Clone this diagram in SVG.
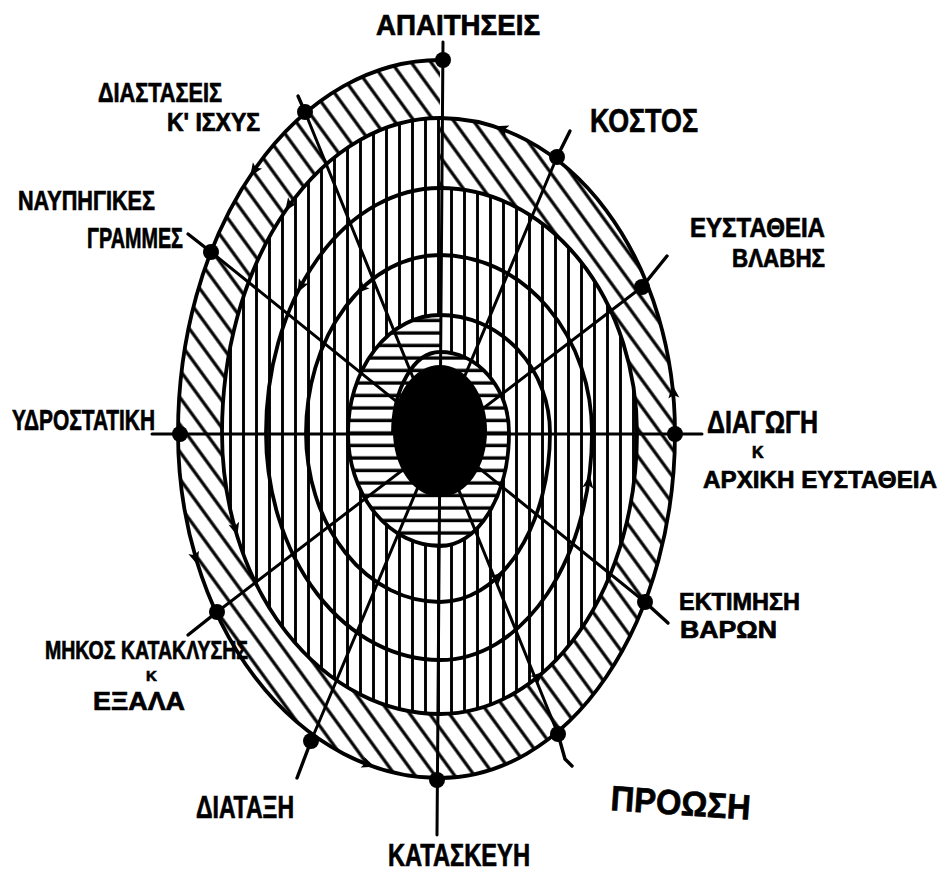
<svg xmlns="http://www.w3.org/2000/svg" xmlns:xlink="http://www.w3.org/1999/xlink" width="947" height="873" viewBox="0 0 947 873">
<defs>
<style>
.lbl{font-family:"Liberation Sans","DejaVu Sans",sans-serif;font-weight:bold;fill:#000;stroke:#000;stroke-width:0.7;}
.sp{fill:none;stroke:#000;stroke-width:3.8;stroke-linejoin:round;}
.ln{stroke:#000;stroke-width:3;stroke-linecap:round;fill:none;}
.tk{stroke:#000;stroke-width:3.4;stroke-linecap:round;fill:none;}
.nd{fill:#000;}
</style>
<pattern id="diag" patternUnits="userSpaceOnUse" width="16" height="16" patternTransform="rotate(-36)">
<rect width="16" height="16" fill="#fff"/>
<line x1="8" y1="-1" x2="8" y2="17" stroke="#000" stroke-width="3.2"/>
</pattern>
<pattern id="vert" patternUnits="userSpaceOnUse" width="13" height="13" x="3">
<rect width="13" height="13" fill="#fff"/>
<line x1="6.5" y1="-1" x2="6.5" y2="14" stroke="#000" stroke-width="2.9"/>
</pattern>
<pattern id="horz" patternUnits="userSpaceOnUse" width="12" height="12.5" y="2">
<rect width="12" height="12.5" fill="#fff"/>
<line x1="-1" y1="6" x2="13" y2="6" stroke="#000" stroke-width="3.4"/>
</pattern>
<path id="ah" d="M5,0 L-8,-5.5 L-5,0 L-8,5.5 Z" fill="#000"/>
</defs>
<rect width="947" height="873" fill="#fff"/>

<g id="hatching">
<path fill="url(#diag)" d="M440,60 A262,373 0 0 0 178,433 A262,345 0 0 0 440,778 A235,345 0 0 0 675,433 A235,315 0 0 0 440,118 Z"/>
<path fill="url(#vert)" d="M440,118 A218,315 0 0 0 222,433 A218,281 0 0 0 440,714 A197,281 0 0 0 637,433 A197,245 0 0 0 440,188 Z"/>
<path fill="url(#horz)" d="M440,315 A92,118 0 0 0 348,433 A92,113 0 0 0 440,546 A69,113 0 0 0 509,433 A69,81 0 0 0 440,352 Z"/>
</g>

<g id="connectors">
<path id="spiral" class="sp" d="M440,60 A262,373 0 0 0 178,433 A262,345 0 0 0 440,778 A235,345 0 0 0 675,433 A235,315 0 0 0 440,118 A218,315 0 0 0 222,433 A218,281 0 0 0 440,714 A197,281 0 0 0 637,433 A197,245 0 0 0 440,188 A174,245 0 0 0 266,433 A174,227 0 0 0 440,660 A152,227 0 0 0 592,433 A152,178 0 0 0 440,255 A134,178 0 0 0 306,433 A134,169 0 0 0 440,602 A110,169 0 0 0 550,433 A110,118 0 0 0 440,315 A92,118 0 0 0 348,433 A92,113 0 0 0 440,546 A69,113 0 0 0 509,433 A69,81 0 0 0 440,352 A47,81 0 0 0 393,433"/>
<line class="ln" x1="443" y1="42" x2="437" y2="835"/>
<line class="ln" x1="152" y1="434" x2="702" y2="434"/>
<line class="ln" x1="305" y1="112" x2="558" y2="734"/>
<line class="ln" x1="557" y1="157" x2="311" y2="741"/>
<line class="ln" x1="211" y1="252" x2="645" y2="602"/>
<line class="ln" x1="642" y1="287" x2="217" y2="612"/>
<line class="tk" x1="305" y1="112" x2="298" y2="96"/>
<line class="tk" x1="557" y1="157" x2="570" y2="131"/>
<line class="tk" x1="642" y1="287" x2="667" y2="256"/>
<line class="tk" x1="645" y1="602" x2="668" y2="623"/>
<polyline class="tk" points="558,734 565,759 572,766"/>
<line class="tk" x1="311" y1="741" x2="297" y2="778"/>
<line class="tk" x1="217" y1="612" x2="188" y2="635"/>
<line class="tk" x1="211" y1="252" x2="188" y2="234"/>
<g id="arrows">
<use xlink:href="#ah" transform="translate(253,172) rotate(124)"/>
<use xlink:href="#ah" transform="translate(196,560) rotate(73)"/>
<use xlink:href="#ah" transform="translate(370,765) rotate(20)"/>
<use xlink:href="#ah" transform="translate(673,390) rotate(-96)"/>
<use xlink:href="#ah" transform="translate(500,128) rotate(-160)"/>
<use xlink:href="#ah" transform="translate(288,207) rotate(125)"/>
<use xlink:href="#ah" transform="translate(236,531) rotate(74)"/>
<use xlink:href="#ah" transform="translate(540,675) rotate(-40)"/>
<use xlink:href="#ah" transform="translate(300,288) rotate(118)"/>
<use xlink:href="#ah" transform="translate(589,480) rotate(-82)"/>
<use xlink:href="#ah" transform="translate(360,290) rotate(135)"/>
<use xlink:href="#ah" transform="translate(500,575) rotate(-45)"/>
</g>
</g>

<ellipse id="core" cx="440" cy="431" rx="47" ry="66" fill="#000"/>

<g id="n-apaitiseis"><circle class="nd" cx="443" cy="60" r="8"/><text class="lbl" x="376" y="35" font-size="30" textLength="164" lengthAdjust="spacingAndGlyphs">ΑΠΑΙΤΗΣΕΙΣ</text></g>
<g id="n-diastaseis"><circle class="nd" cx="305" cy="112" r="8"/><text class="lbl" x="98" y="102" font-size="27" textLength="124" lengthAdjust="spacingAndGlyphs">ΔΙΑΣΤΑΣΕΙΣ</text><text class="lbl" x="167" y="131" font-size="25" textLength="93" lengthAdjust="spacingAndGlyphs">Κ' ΙΣΧΥΣ</text></g>
<g id="n-naupigikes"><circle class="nd" cx="211" cy="252" r="8"/><text class="lbl" x="18" y="210" font-size="28" textLength="137" lengthAdjust="spacingAndGlyphs">ΝΑΥΠΗΓΙΚΕΣ</text><text class="lbl" x="87" y="248" font-size="29" textLength="96" lengthAdjust="spacingAndGlyphs">ΓΡΑΜΜΕΣ</text></g>
<g id="n-ydrostatiki"><circle class="nd" cx="180" cy="434" r="8"/><text class="lbl" x="12" y="430" font-size="30" textLength="143" lengthAdjust="spacingAndGlyphs">ΥΔΡΟΣΤΑΤΙΚΗ</text></g>
<g id="n-mikos"><circle class="nd" cx="217" cy="612" r="8"/><text class="lbl" x="45" y="659" font-size="25" textLength="203" lengthAdjust="spacingAndGlyphs">ΜΗΚΟΣ ΚΑΤΑΚΛΥΣΗΣ</text><text class="lbl" x="146" y="681" font-size="15">Κ</text><text class="lbl" x="93" y="710" font-size="26" textLength="92" lengthAdjust="spacingAndGlyphs">ΕΞΑΛΑ</text></g>
<g id="n-diataxi"><circle class="nd" cx="311" cy="741" r="8"/><text class="lbl" x="196" y="818" font-size="31" textLength="98" lengthAdjust="spacingAndGlyphs">ΔΙΑΤΑΞΗ</text></g>
<g id="n-kataskeyi"><circle class="nd" cx="437" cy="780" r="8"/><text class="lbl" x="388" y="866" font-size="32" textLength="142" lengthAdjust="spacingAndGlyphs">ΚΑΤΑΣΚΕΥΗ</text></g>
<g id="n-proosi"><circle class="nd" cx="558" cy="734" r="8"/><text class="lbl" x="610" y="810" font-size="35" textLength="140" lengthAdjust="spacingAndGlyphs" transform="rotate(4 610 810)">ΠΡΟΩΣΗ</text></g>
<g id="n-ektimisi"><circle class="nd" cx="645" cy="602" r="8"/><text class="lbl" x="679" y="610" font-size="24" textLength="121" lengthAdjust="spacingAndGlyphs">ΕΚΤΙΜΗΣΗ</text><text class="lbl" x="680" y="638" font-size="23" textLength="97" lengthAdjust="spacingAndGlyphs">ΒΑΡΩΝ</text></g>
<g id="n-diagogi"><circle class="nd" cx="675" cy="434" r="8"/><text class="lbl" x="707" y="433" font-size="32" textLength="111" lengthAdjust="spacingAndGlyphs">ΔΙΑΓΩΓΗ</text><text class="lbl" x="752" y="458" font-size="16">Κ</text><text class="lbl" x="703" y="488" font-size="24" textLength="234" lengthAdjust="spacingAndGlyphs">ΑΡΧΙΚΗ ΕΥΣΤΑΘΕΙΑ</text></g>
<g id="n-eystatheia"><circle class="nd" cx="642" cy="287" r="8"/><text class="lbl" x="690" y="237" font-size="28" textLength="135" lengthAdjust="spacingAndGlyphs">ΕΥΣΤΑΘΕΙΑ</text><text class="lbl" x="732" y="267" font-size="25" textLength="93" lengthAdjust="spacingAndGlyphs">ΒΛΑΒΗΣ</text></g>
<g id="n-kostos"><circle class="nd" cx="557" cy="157" r="8"/><text class="lbl" x="590" y="132" font-size="34" textLength="108" lengthAdjust="spacingAndGlyphs">ΚΟΣΤΟΣ</text></g>
</svg>
